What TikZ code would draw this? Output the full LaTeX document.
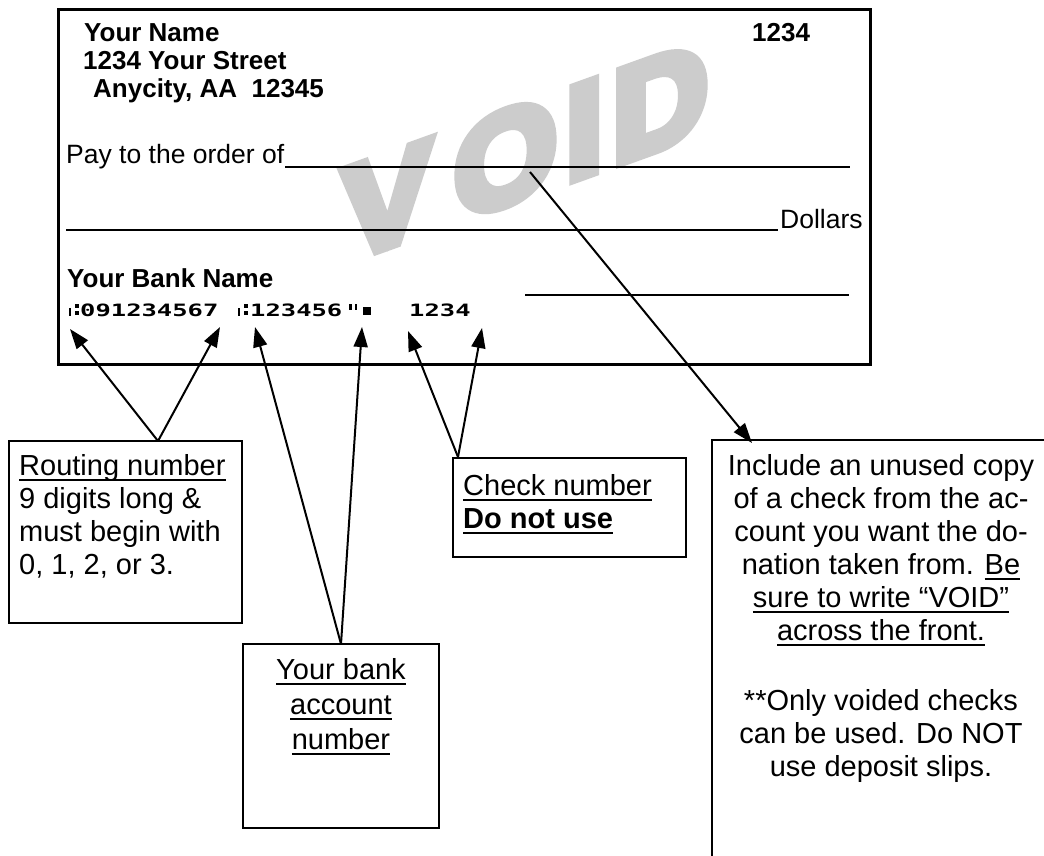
\documentclass[tikz,border=0pt]{standalone}
\usepackage{fontspec}
\setmainfont{Liberation Sans}
\newfontfamily\micrfont[FakeStretch=1.5]{DejaVu Sans Mono}
\newfontfamily\voidfont[FakeBold=8]{Liberation Sans}
\usetikzlibrary{arrows.meta}
\definecolor{voidgray}{RGB}{204,204,204}
\newcommand\myul[1]{\setbox0\hbox{#1}\rlap{\rule[-6pt]{\wd0}{2.2pt}}\box0}
\tikzset{
  chk/.style={font=\fontsize{26.5}{30}\selectfont, inner sep=0pt, anchor=base west},
  chkb/.style={font=\fontsize{26}{30}\selectfont\bfseries, inner sep=0pt, anchor=base west},
  micr/.style={font=\fontsize{17}{20}\selectfont\micrfont\bfseries, inner sep=0pt, anchor=base west},
  box/.style={draw, line width=2.2pt, inner sep=0pt},
  boxtext/.style={font=\fontsize{29}{33}\selectfont, inner sep=0pt},
  conn/.style={line width=2pt, -{Triangle[length=20pt,width=14pt]}},
  rulel/.style={line width=1.8pt},
}
\begin{document}
\begin{tikzpicture}[x=1pt,y=-1pt]
\useasboundingbox (0,0) rectangle (1044,855);
\clip (0,0) rectangle (1044,855);
\fill[white] (0,0) rectangle (1044,855);

% watermark
\node[font=\voidfont\fontsize{132}{132}\selectfont\bfseries, text=voidgray, anchor=base west, yslant=0.36, inner sep=0pt] (void) at (343,262) {V\kern23pt O\kern9pt I\kern10pt D};

% check
\draw[line width=3pt] (58,9) rectangle (870,364);
\node[chkb] (name) at (84,41) {Your Name};
\node[chkb] (street) at (83,69) {1234 Your Street};
\node[chkb] (city) at (93,97) {Anycity, AA\ \ 12345};
\node[chkb] (num) at (752,41) {1234};
\node[chk] (pay) at (66,163) {Pay to the order of};
\draw[rulel] (285,167) -- (850,167);
\draw[rulel] (66,230) -- (778,230);
\node[chk] (dollars) at (780,228) {Dollars};
\draw[rulel] (525,295) -- (849,295);
\node[chkb] (bank) at (67,287) {Your Bank Name};

% MICR line (transit and on-us symbols drawn as shapes)
\fill (69,308) rectangle (71.2,316);
\fill (74.5,303.5) rectangle (78.5,307.5);
\fill (74.5,310.5) rectangle (78.5,314.5);
\node[micr] (micra) at (80,316) {091234567};
\fill (238,308) rectangle (240.2,316);
\fill (243.5,303.5) rectangle (247.5,307.5);
\fill (243.5,310.5) rectangle (247.5,314.5);
\node[micr] (micrb) at (250,316) {123456};
\fill (349,303.5) rectangle (351.5,310);
\fill (354.5,303.5) rectangle (357,310);
\fill (363,307) rectangle (371,315);
\node[micr] (micrc) at (409,316) {1234};

% boxes
\node[box, minimum width=233pt, minimum height=182pt] (routing) at (125.5,532) {};
\node[boxtext, anchor=north west, align=left] (routingtext) at (19,454)
  {\myul{Routing number}\\9 digits long \&\\must begin with\\0, 1, 2, or 3.};
\node[box, minimum width=233pt, minimum height=99pt] (checknum) at (569.5,507.5) {};
\node[boxtext, anchor=north west, align=left] (checknumtext) at (463,474)
  {\myul{Check number}\\\myul{\bfseries Do not use}};
\node[box, minimum width=196pt, minimum height=184pt] (account) at (341,736) {};
\node[boxtext, anchor=north, align=center, font=\fontsize{29}{35}\selectfont] (accounttext) at (341,658)
  {\myul{Your bank}\\\myul{account}\\\myul{number}};
\node[box, minimum width=340pt, minimum height=460pt] (include) at (882,670) {};
\node[boxtext, anchor=north, align=center] (includetext) at (881,454)
  {Include an unused copy\\of a check from the ac-\\count you want the do-\\nation taken from. \myul{Be}\\\myul{sure to write “VOID”}\\\myul{across the front.}\\[37pt]**Only voided checks\\can be used. Do NOT\\use deposit slips.};

% connector ends
\coordinate (rtop) at (158,441);
\coordinate (atop) at (341,644);
\coordinate (ctop) at (458,457);
\coordinate (tA) at (70,329);
\coordinate (tB) at (220,327);
\coordinate (tC) at (255,327);
\coordinate (tD) at (362,327);
\coordinate (tE) at (408,331);
\coordinate (tF) at (482,328);
\coordinate (vstart) at (530,172);
\coordinate (vtip) at (752,443);

\draw[conn] (rtop) -- (tA);
\draw[conn] (rtop) -- (tB);
\draw[conn] (atop) -- (tC);
\draw[conn] (atop) -- (tD);
\draw[conn] (ctop) -- (tE);
\draw[conn] (ctop) -- (tF);
\draw[conn] (vstart) -- (vtip);
\end{tikzpicture}
\end{document}
